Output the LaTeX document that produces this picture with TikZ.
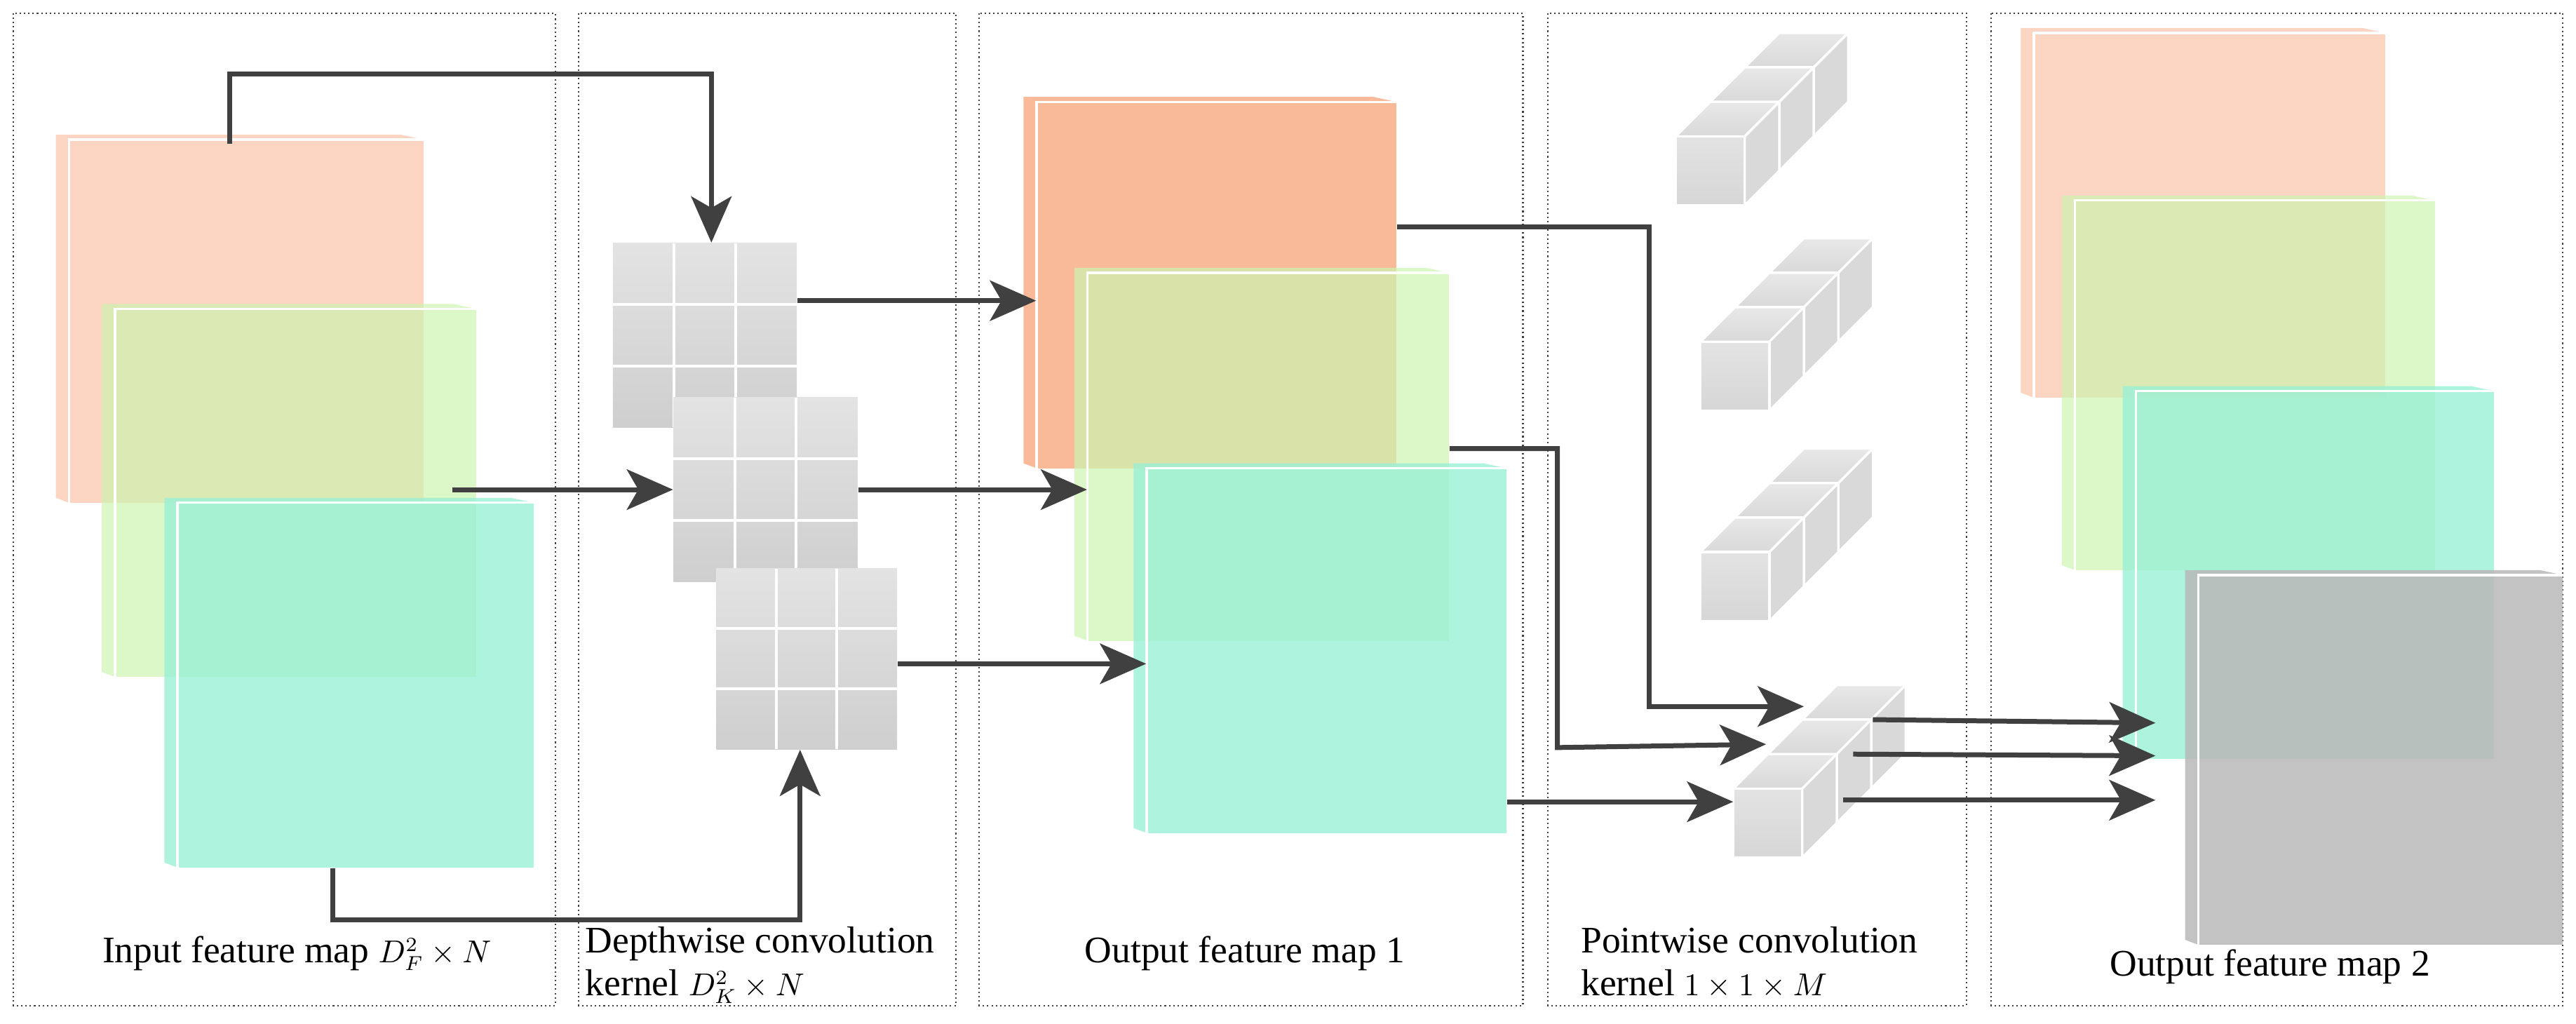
\documentclass[tikz,border=0pt]{standalone}
\usepackage{fontspec}
\setmainfont{Liberation Serif}
\usepackage{xcolor}
\usetikzlibrary{arrows.meta, positioning, calc}

\definecolor{arrowgray}{HTML}{404040}
\definecolor{inorange}{HTML}{F9C3A6}
\definecolor{outorange}{HTML}{F7A97F}
\definecolor{mapgreen}{HTML}{CDF3B0}
\definecolor{mapcyan}{HTML}{9AF0D6}
\definecolor{mapgray}{HTML}{B8B8B8}

% feature map: name, x, y (top left of front face), width, height, colour, opacity
\newcommand{\fmap}[7]{%
  \fill[#6, fill opacity=#7] (#2-8,#3-3) -- (#2,#3) -- (#2,#3+#5) -- (#2-8,#3+#5-3) -- cycle;
  \fill[#6, fill opacity=#7] (#2-8,#3-3) -- (#2+#4-14,#3-3) -- (#2+#4,#3) -- (#2,#3) -- cycle;
  \node[fmapnode, fill=#6, fill opacity=#7, minimum width=#4*0.02cm, minimum height=#5*0.02cm]
    (#1) at (#2+#4/2,#3+#5/2) {};
  \draw[white, line width=0.8pt] (#2,#3+#5) -- (#2,#3) -- (#2+#4,#3);
}
% depthwise kernel: name, x, y (top left), size
\newcommand{\dkernel}[4]{%
  \node[kernel, minimum size=#4*0.02cm] (#1) at (#2+#4/2,#3+#4/2) {};
  \foreach \k in {1,2} {
    \draw[white, line width=1pt] (#2+\k*#4/3,#3) -- (#2+\k*#4/3,#3+#4);
    \draw[white, line width=1pt] (#2,#3+\k*#4/3) -- (#2+#4,#3+\k*#4/3);
  }
}
% pointwise kernel: name, x, y (bottom left of front cube)
\newcommand{\pwrod}[3]{%
  \foreach \k in {2,1,0} {
    \begin{scope}[shift={(#2+\k*21,#3-\k*21)}]
      \draw[cubeedge, top color=gray!18, bottom color=gray!30] (0,-42) -- (21,-63) -- (63,-63) -- (42,-42) -- cycle;
      \draw[cubeedge, fill=gray!30] (42,0) -- (42,-42) -- (63,-63) -- (63,-21) -- cycle;
      \draw[cubeedge, top color=gray!22, bottom color=gray!32] (0,0) rectangle (42,-42);
    \end{scope}
  }
  \coordinate (#1) at (#2+21,#3-21);
}
\newcommand{\smallmath}[1]{{\fontsize{10.5}{12}\selectfont$#1$}}

\begin{document}
\begin{tikzpicture}[x=0.02cm, y=-0.02cm,
    panel/.style={draw=arrowgray, densely dotted, line width=0.5pt},
    fmapnode/.style={rectangle, inner sep=0pt, draw=none},
    kernel/.style={rectangle, inner sep=0pt, top color=gray!22, bottom color=gray!38},
    cubeedge/.style={draw=white, line width=0.8pt},
    arrow/.style={-{Stealth[length=16, width=14, inset=4]}, draw=arrowgray, line width=1.7pt},
    label/.style={font=\fontsize{13}{15}\selectfont, inner sep=0pt}
  ]
  \useasboundingbox (0,0) rectangle (1568,623);

  % Panels
  \draw[panel] (8,8) rectangle (338,612);
  \draw[panel] (352,8) rectangle (582,612);
  \draw[panel] (596,8) rectangle (927,612);
  \draw[panel] (942,8) rectangle (1197,612);
  \draw[panel] (1212,8) rectangle (1560,612);

  % Input feature map
  \fmap{inO}{42}{85}{216}{221}{inorange}{0.7}
  \fmap{inG}{70}{188}{220}{224}{mapgreen}{0.7}
  \fmap{inC}{108}{306}{217}{222}{mapcyan}{0.8}

  % Depthwise kernels
  \dkernel{dk1}{373}{148}{112}
  \dkernel{dk2}{410}{242}{112}
  \dkernel{dk3}{436}{346}{110}

  % Output feature map 1
  \fmap{o1O}{631}{62}{219}{223}{outorange}{0.8}
  \fmap{o1G}{662}{166}{220}{224}{mapgreen}{0.7}
  \fmap{o1C}{698}{285}{219}{222}{mapcyan}{0.8}

  % Pointwise kernels
  \pwrod{pk1}{1020}{125}
  \pwrod{pk2}{1035}{250}
  \pwrod{pk3}{1035}{378}
  \pwrod{pk4}{1055}{522}

  % Output feature map 2
  \fmap{o2O}{1238}{20}{214}{222}{inorange}{0.7}
  \fmap{o2G}{1263}{122}{219}{225}{mapgreen}{0.7}
  \fmap{o2C}{1300}{238}{218}{224}{mapcyan}{0.8}
  \fmap{o2K}{1338}{350}{222}{225}{mapgray}{0.85}

  % Input map to depthwise kernels
  \draw[arrow] ($(inO.north west)+(98,3)$) |- (433,45) -- (dk1.north -| 433,0);
  \draw[arrow] ($(inG.east |- 0,298)+(-15,0)$) -- (dk2.west |- 0,298);
  \draw[arrow] ($(inC.south west)+(95,0)$) |- (487,560) -- (dk3.south -| 487,0);

  % Depthwise kernels to output map 1
  \draw[arrow] (dk1.east |- 0,183) -- (o1O.west |- 0,183);
  \draw[arrow] (dk2.east |- 0,298) -- (o1G.west |- 0,298);
  \draw[arrow] (dk3.east |- 0,404) -- (o1C.west |- 0,404);

  % Output map 1 to pointwise kernel
  \draw[arrow] (o1O.east |- 0,138) -| (1004,430) -- ($(pk4)+(22,-71)$);
  \draw[arrow] (o1G.east |- 0,273) -| (948,455) -- ($(pk4)+(-1,-48)$);
  \draw[arrow] (o1C.east |- 0,488) -- ($(pk4)+(-21,-13)$);

  % Pointwise kernel to output map 2
  \draw[arrow] ($(pk4)+(64,-63)$) -- (1312,440);
  \draw[arrow] ($(pk4)+(52,-42)$) -- (1312,460);
  \draw[arrow] ($(pk4)+(46,-14)$) -- (1312,487);

  % Labels
  \node[label, anchor=base west] (lin) at (62,586) {Input feature map \smallmath{D_F^2\times N}};
  \node[label, anchor=base west] (ldw1) at (356,580) {Depthwise convolution};
  \node[label, anchor=base west] (ldw2) at (356,606) {kernel \smallmath{D_K^2\times N}};
  \node[label, anchor=base west] (lo1) at (660,586) {Output feature map 1};
  \node[label, anchor=base west] (lpw1) at (962,580) {Pointwise convolution};
  \node[label, anchor=base west] (lpw2) at (962,606) {kernel \smallmath{1\times1\times M}};
  \node[label, anchor=base west] (lo2) at (1284,594) {Output feature map 2};
\end{tikzpicture}
\end{document}
